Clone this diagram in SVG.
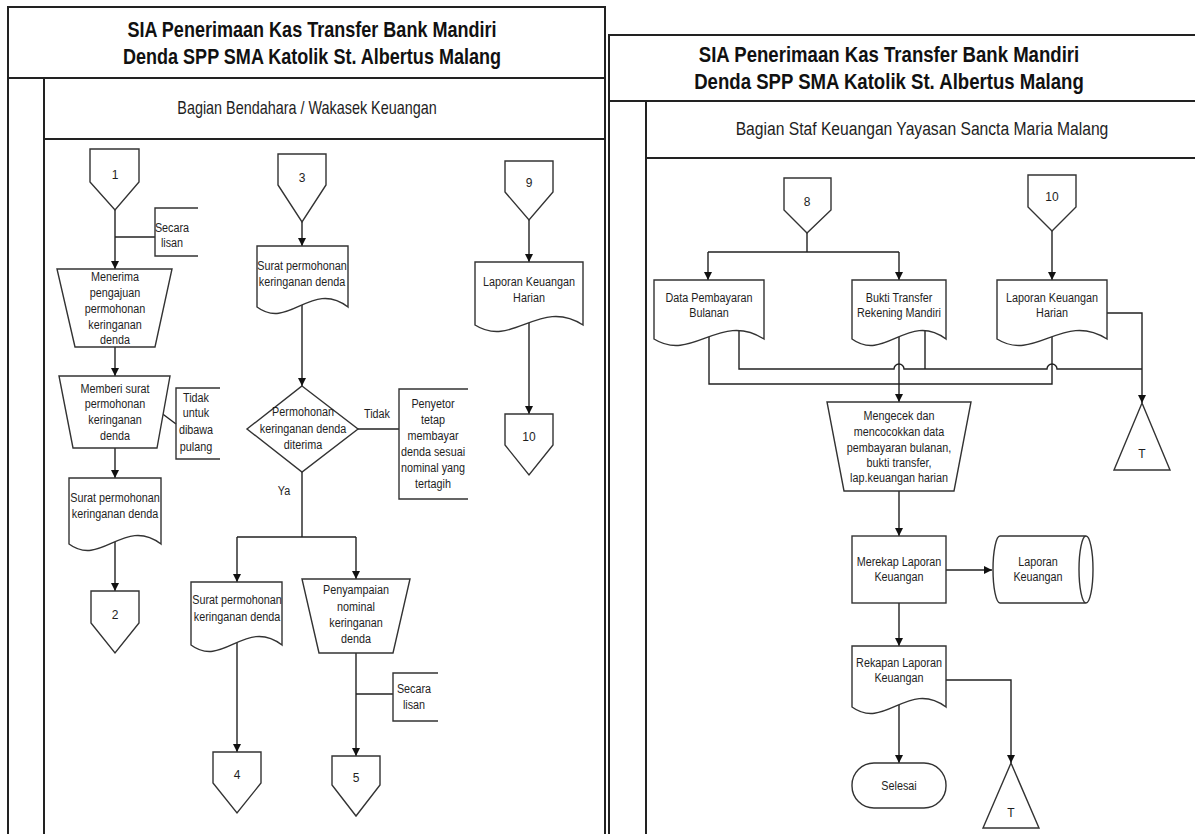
<svg xmlns="http://www.w3.org/2000/svg" width="1195" height="834" viewBox="0 0 1195 834">
<style>
.frame{fill:none;stroke:#222;stroke-width:2}
.sh{fill:#fff;stroke:#333;stroke-width:1.4}
.br{fill:none;stroke:#333;stroke-width:1.4}
.ln{fill:none;stroke:#222;stroke-width:1.4}
.ar{marker-end:url(#ah)}
.t{font-family:"Liberation Sans",Arial,sans-serif;font-size:13.5px;fill:#1e1e1e;text-anchor:middle}
.n{font-family:"Liberation Sans",Arial,sans-serif;font-size:12px;fill:#1e1e1e;text-anchor:middle}
.h1{font-family:"Liberation Sans",Arial,sans-serif;font-size:22px;font-weight:bold;fill:#111;text-anchor:middle}
.h2{font-family:"Liberation Sans",Arial,sans-serif;font-size:18px;fill:#1e1e1e;text-anchor:middle}
</style>
<defs>
<marker id="ah" markerWidth="8" markerHeight="8" refX="8" refY="4" orient="auto" markerUnits="userSpaceOnUse"><path d="M0,0 L8,4 L0,8 Z" fill="#111"/></marker>
</defs>
<rect width="1195" height="834" fill="#fff"/>
<g id="frames">
<path class="frame" d="M8,834 V7 H605 V834 M8,78 H605 M44,78 V834 M44,139 H605"/>
<path class="frame" d="M609,834 V35 H1195 M609,101 H1195 M646,101 V834 M646,158 H1195"/>
<text class="h1" transform="matrix(0.82 0 0 1 312 0)"><tspan x="0" y="37">SIA Penerimaan Kas Transfer Bank Mandiri</tspan><tspan x="0" y="64">Denda SPP SMA Katolik St. Albertus Malang</tspan></text>
<text class="h2" transform="matrix(0.8 0 0 1 307 0)"><tspan x="0" y="114">Bagian Bendahara / Wakasek Keuangan</tspan></text>
<text class="h1" transform="matrix(0.845 0 0 1 889 0)"><tspan x="0" y="62">SIA Penerimaan Kas Transfer Bank Mandiri</tspan><tspan x="0" y="89">Denda SPP SMA Katolik St. Albertus Malang</tspan></text>
<text class="h2" transform="matrix(0.87 0 0 1 922 0)"><tspan x="0" y="135">Bagian Staf Keuangan Yayasan Sancta Maria Malang</tspan></text>
</g>
<g id="connectors">
<path class="ln ar" d="M115,210 V269"/>
<path class="ln" d="M115,237 H155"/>
<path class="ln ar" d="M115,347 V376"/>
<path class="ln" d="M160,412 L176,424"/>
<path class="ln ar" d="M115,448 V478"/>
<path class="ln ar" d="M115,540 V591"/>
<path class="ln ar" d="M302,222 V246"/>
<path class="ln ar" d="M302,303 V386"/>
<path class="ln" d="M358,429 H399"/>
<path class="ln" d="M302,472 V537 M237,537 H356"/>
<path class="ln ar" d="M237,537 V582"/>
<path class="ln ar" d="M356,537 V579"/>
<path class="ln ar" d="M237,641 V752"/>
<path class="ln ar" d="M356,653 V756"/>
<path class="ln" d="M356,694 H393"/>
<path class="ln ar" d="M529,220 V262"/>
<path class="ln ar" d="M529,321 V414"/>
<path class="ln" d="M807,233 V252 M708,252 H899"/>
<path class="ln ar" d="M708,252 V280"/>
<path class="ln ar" d="M899,252 V280"/>
<path class="ln ar" d="M1052,231 V280"/>
<path class="ln" d="M709,335 V384 H1052 V335"/>
<path class="ln" d="M739,329 V369 H894 A5,5 0 0 1 904,369 H1047 A5,5 0 0 1 1057,369 H1142 M925,329 V369"/>
<path class="ln ar" d="M1107,313 H1142 V403"/>
<path class="ln ar" d="M899,335 V402"/>
<path class="ln ar" d="M899,491 V536"/>
<path class="ln ar" d="M946,570 H992"/>
<path class="ln ar" d="M899,603 V646"/>
<path class="ln ar" d="M946,680 H1011 V763"/>
<path class="ln ar" d="M899,703 V763"/>
<text class="t" transform="matrix(0.8 0 0 1 377 0)"><tspan x="0" y="418">Tidak</tspan></text>
<text class="t" transform="matrix(0.8 0 0 1 284 0)"><tspan x="0" y="495">Ya</tspan></text>
</g>
<g id="c1"><path class="sh" d="M90,149 H139 V182 L115,210 L90,182 Z"/><text class="n" x="115" y="179">1</text></g>
<g id="lisan1"><path class="br" d="M198,208 H155 V256 H198"/><text class="t" transform="matrix(0.8 0 0 1 172 0)"><tspan x="0" y="232">Secara</tspan><tspan x="0" y="247">lisan</tspan></text></g>
<g id="menerima"><path class="sh" d="M57,269 H172 L155,347 H75 Z"/><text class="t" transform="matrix(0.8 0 0 1 115 0)"><tspan x="0" y="281">Menerima</tspan><tspan x="0" y="297">pengajuan</tspan><tspan x="0" y="313">permohonan</tspan><tspan x="0" y="329">keringanan</tspan><tspan x="0" y="344">denda</tspan></text></g>
<g id="memberi"><path class="sh" d="M59,376 H170 L157,448 H73 Z"/><text class="t" transform="matrix(0.8 0 0 1 115 0)"><tspan x="0" y="393">Memberi surat</tspan><tspan x="0" y="408">permohonan</tspan><tspan x="0" y="424">keringanan</tspan><tspan x="0" y="440">denda</tspan></text></g>
<g id="tidakpulang"><path class="br" d="M220,388 H176 V459 H220"/><text class="t" transform="matrix(0.8 0 0 1 196 0)"><tspan x="0" y="402">Tidak</tspan><tspan x="0" y="417">untuk</tspan><tspan x="0" y="434">dibawa</tspan><tspan x="0" y="451">pulang</tspan></text></g>
<g id="doc1"><path class="sh" d="M69,478 H161 V544 C124.2,516 101.2,568 69,544 Z"/><text class="t" transform="matrix(0.8 0 0 1 115 0)"><tspan x="0" y="502">Surat permohonan</tspan><tspan x="0" y="518">keringanan denda</tspan></text></g>
<g id="c2"><path class="sh" d="M91,591 H139 V623 L115,653 L91,623 Z"/><text class="n" x="115" y="619">2</text></g>
<g id="c3"><path class="sh" d="M278,154 H326 V185 L302,222 L278,185 Z"/><text class="n" x="302" y="182">3</text></g>
<g id="doc3"><path class="sh" d="M257,246 H348 V307 C311.6,279 288.85,331 257,307 Z"/><text class="t" transform="matrix(0.8 0 0 1 302 0)"><tspan x="0" y="270">Surat permohonan</tspan><tspan x="0" y="286">keringanan denda</tspan></text></g>
<g id="diamond"><path class="sh" d="M302,386 L358,429 L302,472 L247,429 Z"/><text class="t" transform="matrix(0.8 0 0 1 303 0)"><tspan x="0" y="416">Permohonan</tspan><tspan x="0" y="433">keringanan denda</tspan><tspan x="0" y="449">diterima</tspan></text></g>
<g id="penyetor"><path class="br" d="M468,389 H399 V499 H468"/><text class="t" transform="matrix(0.8 0 0 1 433 0)"><tspan x="0" y="408">Penyetor</tspan><tspan x="0" y="424">tetap</tspan><tspan x="0" y="440">membayar</tspan><tspan x="0" y="456">denda sesuai</tspan><tspan x="0" y="472">nominal yang</tspan><tspan x="0" y="488">tertagih</tspan></text></g>
<g id="doc4"><path class="sh" d="M191,582 H282 V645 C245.6,617 222.85,669 191,645 Z"/><text class="t" transform="matrix(0.8 0 0 1 237 0)"><tspan x="0" y="604">Surat permohonan</tspan><tspan x="0" y="621">keringanan denda</tspan></text></g>
<g id="penyampaian"><path class="sh" d="M302,579 H410 L393,653 H319 Z"/><text class="t" transform="matrix(0.8 0 0 1 356 0)"><tspan x="0" y="594">Penyampaian</tspan><tspan x="0" y="611">nominal</tspan><tspan x="0" y="627">keringanan</tspan><tspan x="0" y="643">denda</tspan></text></g>
<g id="lisan2"><path class="br" d="M438,673 H393 V721 H438"/><text class="t" transform="matrix(0.8 0 0 1 414 0)"><tspan x="0" y="693">Secara</tspan><tspan x="0" y="709">lisan</tspan></text></g>
<g id="c4"><path class="sh" d="M213,752 H261 V783 L237,813 L213,783 Z"/><text class="n" x="237" y="779">4</text></g>
<g id="c5"><path class="sh" d="M332,756 H380 V785 L356,816 L332,785 Z"/><text class="n" x="356" y="782">5</text></g>
<g id="c9"><path class="sh" d="M505,161 H553 V192 L529,220 L505,192 Z"/><text class="n" x="529" y="187">9</text></g>
<g id="lapharian1"><path class="sh" d="M475,262 H583 V325 C539.8,297 512.8,349 475,325 Z"/><text class="t" transform="matrix(0.8 0 0 1 529 0)"><tspan x="0" y="286">Laporan Keuangan</tspan><tspan x="0" y="302">Harian</tspan></text></g>
<g id="c10a"><path class="sh" d="M505,414 H553 V445 L529,475 L505,445 Z"/><text class="n" x="529" y="441">10</text></g>
<g id="c8"><path class="sh" d="M784,178 H831 V210 L807,233 L784,210 Z"/><text class="n" x="807" y="206">8</text></g>
<g id="c10b"><path class="sh" d="M1028,175 H1076 V207 L1052,231 L1028,207 Z"/><text class="n" x="1052" y="201">10</text></g>
<g id="databayar"><path class="sh" d="M654,280 H764 V339 C720,311 692.5,363 654,339 Z"/><text class="t" transform="matrix(0.8 0 0 1 709 0)"><tspan x="0" y="302">Data Pembayaran</tspan><tspan x="0" y="317">Bulanan</tspan></text></g>
<g id="bukti"><path class="sh" d="M852,280 H946 V339 C908.4,311 884.9,363 852,339 Z"/><text class="t" transform="matrix(0.8 0 0 1 899 0)"><tspan x="0" y="302">Bukti Transfer</tspan><tspan x="0" y="317">Rekening Mandiri</tspan></text></g>
<g id="lapharian2"><path class="sh" d="M997,280 H1107 V339 C1063,311 1035.5,363 997,339 Z"/><text class="t" transform="matrix(0.8 0 0 1 1052 0)"><tspan x="0" y="302">Laporan Keuangan</tspan><tspan x="0" y="317">Harian</tspan></text></g>
<g id="t1"><path class="sh" d="M1142,403 L1170,470 L1114,470 Z"/><text class="n" x="1142" y="458">T</text></g>
<g id="mengecek"><path class="sh" d="M827,402 H971 L954,491 H844 Z"/><text class="t" transform="matrix(0.8 0 0 1 899 0)"><tspan x="0" y="420">Mengecek dan</tspan><tspan x="0" y="436">mencocokkan data</tspan><tspan x="0" y="452">pembayaran bulanan,</tspan><tspan x="0" y="467">bukti transfer,</tspan><tspan x="0" y="482">lap.keuangan harian</tspan></text></g>
<g id="merekap"><rect class="sh" x="852" y="536" width="94" height="67"/><text class="t" transform="matrix(0.8 0 0 1 899 0)"><tspan x="0" y="566">Merekap Laporan</tspan><tspan x="0" y="581">Keuangan</tspan></text></g>
<g id="laporankeu"><path class="sh" d="M1000,536 H1086 A7,33.5 0 0 1 1086,603 H1000 A7,33.5 0 0 1 1000,536 Z M1086,536 A7,33.5 0 0 0 1086,603"/><text class="t" transform="matrix(0.8 0 0 1 1038 0)"><tspan x="0" y="566">Laporan</tspan><tspan x="0" y="581">Keuangan</tspan></text></g>
<g id="rekapan"><path class="sh" d="M852,646 H946 V707 C908.4,679 884.9,731 852,707 Z"/><text class="t" transform="matrix(0.8 0 0 1 899 0)"><tspan x="0" y="667">Rekapan Laporan</tspan><tspan x="0" y="682">Keuangan</tspan></text></g>
<g id="selesai"><rect class="sh" x="852" y="763" width="94" height="45" rx="22" ry="22"/><text class="t" transform="matrix(0.8 0 0 1 899 0)"><tspan x="0" y="790">Selesai</tspan></text></g>
<g id="t2"><path class="sh" d="M1011,763 L1039,828 L983,828 Z"/><text class="n" x="1011" y="817">T</text></g>
</svg>
